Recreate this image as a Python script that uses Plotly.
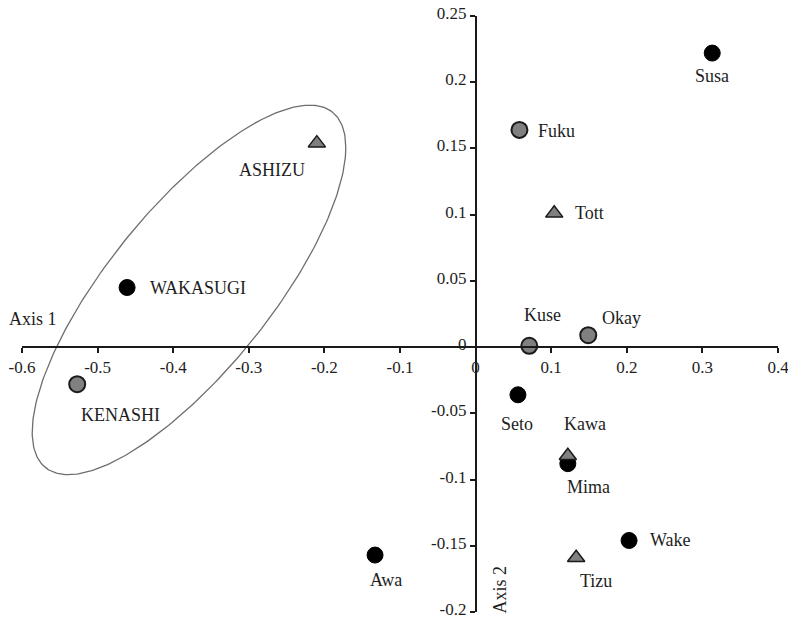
import numpy as np
import plotly.graph_objects as go

# ---- data ----
sites = ["Susa", "Fuku", "Tott", "ASHIZU", "WAKASUGI", "KENASHI", "Kuse", "Okay",
         "Seto", "Kawa", "Mima", "Awa", "Tizu", "Wake"]
axis1 = [0.313, 0.058, 0.104, -0.210, -0.461, -0.527, 0.071, 0.149,
         0.056, 0.122, 0.122, -0.133, 0.133, 0.203]
axis2 = [0.222, 0.164, 0.101, 0.154, 0.045, -0.028, 0.001, 0.009,
         -0.036, -0.082, -0.088, -0.157, -0.159, -0.146]
group = ["black", "gray", "tri", "tri", "black", "gray", "gray", "gray",
         "black", "tri", "black", "black", "tri", "black"]

x_ticks = [-0.6, -0.5, -0.4, -0.3, -0.2, -0.1, 0, 0.1, 0.2, 0.3, 0.4]
x_ticktext = ["-0.6", "-0.5", "-0.4", "-0.3", "-0.2", "-0.1", "0", "0.1", "0.2", "0.3", "0.4"]
y_ticks = [-0.2, -0.15, -0.1, -0.05, 0, 0.05, 0.1, 0.15, 0.2, 0.25]
y_ticktext = ["-0.2", "-0.15", "-0.1", "-0.05", "0", "0.05", "0.1", "0.15", "0.2", "0.25"]

# ellipse around the ASHIZU / WAKASUGI / KENASHI group (center, half extents, correlation)
ell_center = (-0.3791, 0.0432)
ell_half = (0.2074, 0.1395)
ell_rho = 0.77

# label offsets (pixels): xshift, yshift, xanchor
label_style = {
    "Susa": (0, -23, "center"), "Fuku": (17, -1, "left"), "Tott": (19, 0, "left"),
    "ASHIZU": (-45, -27, "center"), "WAKASUGI": (21, 0, "left"),
    "KENASHI": (43, -31, "center"), "Kuse": (13, 31, "center"),
    "Okay": (33, 17, "center"), "Seto": (-1, -29, "center"),
    "Kawa": (17, 32, "center"), "Mima": (21, -23, "center"),
    "Awa": (11, -25, "center"), "Tizu": (20, -23, "center"), "Wake": (19, 0, "left"),
}

FONT = "Liberation Serif"
TXT = "#1e1e1e"

fig = go.Figure()

# ellipse
t = np.linspace(0, 2 * np.pi, 300)
ex = ell_center[0] + ell_half[0] * np.cos(t)
ey = ell_center[1] + ell_half[1] * (ell_rho * np.cos(t) + np.sqrt(1 - ell_rho ** 2) * np.sin(t))
fig.add_trace(go.Scatter(x=ex, y=ey, mode="lines", line=dict(color="#6e6e6e", width=1.3),
                         hoverinfo="skip", showlegend=False))

styles = {
    "black": dict(symbol="circle", size=16, color="#000000", line=dict(color="#000000", width=1)),
    "gray": dict(symbol="circle", size=16, color="#808080", line=dict(color="#1a1a1a", width=2)),
    "tri": dict(symbol="triangle-up", size=15, color="#808080", line=dict(color="#1a1a1a", width=1.5)),
}
for g in ["black", "gray", "tri"]:
    idx = [i for i, gg in enumerate(group) if gg == g]
    fig.add_trace(go.Scatter(
        x=[axis1[i] for i in idx], y=[axis2[i] for i in idx],
        text=[sites[i] for i in idx], mode="markers",
        marker=styles[g], showlegend=False, cliponaxis=False))

for name, xv, yv in zip(sites, axis1, axis2):
    xs, ys, xa = label_style[name]
    fig.add_annotation(x=xv, y=yv, text=name, showarrow=False, xshift=xs, yshift=ys,
                       xanchor=xa, yanchor="middle",
                       font=dict(family=FONT, size=18, color=TXT))

fig.add_annotation(x=-0.6, y=0, text="Axis 1", showarrow=False, xanchor="left",
                   xshift=-15, yshift=28, font=dict(family=FONT, size=18, color=TXT))
fig.add_annotation(x=0, y=-0.2, text="Axis 2", showarrow=False, textangle=-90,
                   xanchor="center", yanchor="middle", xshift=24, yshift=22,
                   font=dict(family=FONT, size=18, color=TXT))

fig.update_layout(
    width=788, height=620,
    margin=dict(l=22, r=10, t=16, b=8),
    paper_bgcolor="white", plot_bgcolor="white",
    xaxis=dict(range=[-0.6, 0.4], anchor="free", position=0.2 / 0.45, automargin=False,
               showline=True, linecolor="#1a1a1a", linewidth=1.6,
               ticks="outside", ticklen=5, tickcolor="#1a1a1a", tickwidth=1.5,
               tickvals=x_ticks, ticktext=x_ticktext, showgrid=False, zeroline=False,
               ticklabeloverflow="allow",
               tickfont=dict(family=FONT, size=17, color=TXT)),
    yaxis=dict(range=[-0.2, 0.25], anchor="free", position=0.6, automargin=False,
               showline=True, linecolor="#1a1a1a", linewidth=1.6,
               ticks="outside", ticklen=5, tickcolor="#1a1a1a", tickwidth=1.5,
               tickvals=y_ticks, ticktext=y_ticktext, showgrid=False, zeroline=False,
               ticklabeloverflow="allow", ticklabelshift=-3,
               tickfont=dict(family=FONT, size=17, color=TXT)),
)

# remove the default page margin so the 788x620 figure fills the window exactly
fig.write_html("out.html", config={"displayModeBar": False},
               post_script="document.body.style.margin='0';document.body.style.overflow='hidden';")
